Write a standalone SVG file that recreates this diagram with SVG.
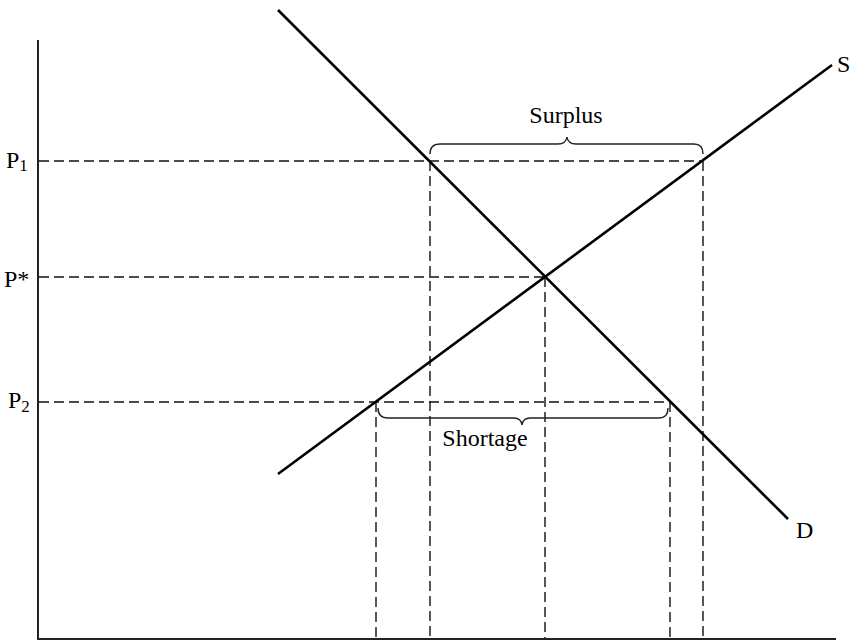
<svg xmlns="http://www.w3.org/2000/svg" width="852" height="641" viewBox="0 0 852 641">
<style>
.axis{stroke:#222;stroke-width:2;fill:none}
.curve{stroke:#000;stroke-width:2.6;fill:none}
.dash{stroke:#111;stroke-width:1.4;stroke-dasharray:10 5;fill:none}
.brace{stroke:#222;stroke-width:1.4;fill:none}
text{font-family:"Liberation Serif","Times New Roman",serif;fill:#000}
.lbl{font-size:24px}
.sub{font-size:17px}
</style>
<rect width="852" height="641" fill="#fff"/>
<g id="axes">
<line class="axis" x1="38" y1="40" x2="38" y2="639"/>
<line class="axis" x1="37" y1="639" x2="836" y2="639"/>
</g>
<g id="connectors">
<line class="dash" x1="39" y1="161" x2="703" y2="161"/>
<line class="dash" x1="39" y1="277" x2="545" y2="277"/>
<line class="dash" x1="39" y1="402" x2="670" y2="402"/>
<line class="dash" x1="376" y1="402" x2="376" y2="638"/>
<line class="dash" x1="430" y1="161" x2="430" y2="638"/>
<line class="dash" x1="545" y1="277" x2="545" y2="638"/>
<line class="dash" x1="670" y1="402" x2="670" y2="638"/>
<line class="dash" x1="703" y1="161" x2="703" y2="638"/>
</g>
<g id="demand">
<line class="curve" x1="278" y1="10" x2="788" y2="519"/>
<text class="lbl" x="796" y="538">D</text>
</g>
<g id="supply">
<line class="curve" x1="278" y1="474" x2="832" y2="65"/>
<text class="lbl" x="837" y="72">S</text>
</g>
<g id="surplus">
<path class="brace" d="M430,154 Q430,144 440,144 L558,144 Q566,144 567,137 Q568,144 576,144 L694,144 Q703,144 703,154"/>
<text class="lbl" x="566" y="123" text-anchor="middle">Surplus</text>
</g>
<g id="shortage">
<path class="brace" d="M378,408 Q378,418 388,418 L514,418 Q521,418 522,425 Q523,418 530,418 L659,418 Q668,418 668,408"/>
<text class="lbl" x="485" y="446" text-anchor="middle">Shortage</text>
</g>
<g id="p1">
<text class="lbl" x="6" y="168">P<tspan class="sub" dy="3">1</tspan></text>
</g>
<g id="pstar">
<text class="lbl" x="4" y="287">P*</text>
</g>
<g id="p2">
<text class="lbl" x="8" y="408">P<tspan class="sub" dy="4">2</tspan></text>
</g>
</svg>
